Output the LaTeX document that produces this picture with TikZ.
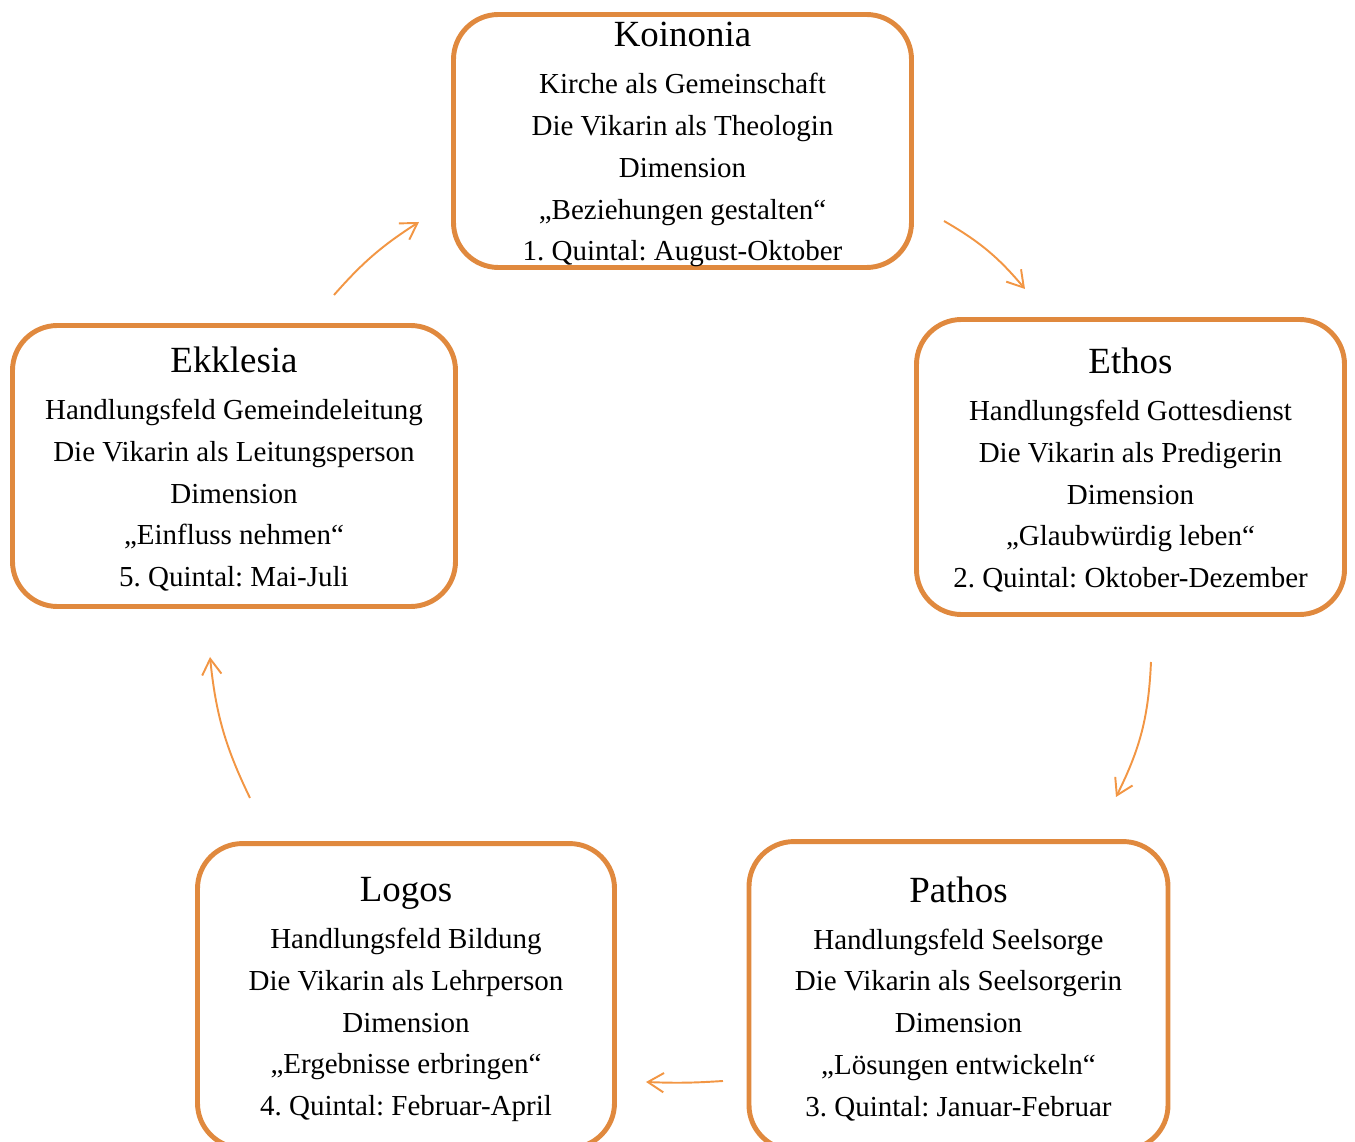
\documentclass[tikz,border=0pt]{standalone}
\usepackage{fontspec}
\setmainfont{Liberation Serif}
\usepackage{tikz}
\usetikzlibrary{arrows.meta}
\frenchspacing

\definecolor{boxorange}{RGB}{224,137,62}
\definecolor{arroworange}{RGB}{242,150,68}

\tikzset{
    phase/.style={draw=boxorange, line width=2.8pt, rounded corners=0.9cm, align=center,
        inner sep=0pt, font=\fontsize{16.5}{23.8}\selectfont},
    flow/.style={draw=arroworange, line width=1.1pt, -{Straight Barb[length=9pt,width=11pt]}}
}
\newcommand{\phasetitle}[1]{{\fontsize{21}{23.8}\selectfont\rule{0pt}{18pt}#1}\\[3pt]}

\begin{document}
\begin{tikzpicture}[scale=0.2]
    \useasboundingbox (0,0) rectangle (135.5,-114.2);
    \node [phase, minimum width=9.16cm, minimum height=5.06cm] (koinonia) at (68.25,-14.1)
        {\phasetitle{Koinonia}Kirche als Gemeinschaft\\Die Vikarin als Theologin\\Dimension\\„Beziehungen gestalten“\\1. Quintal: August-Oktober};
    \node [phase, minimum width=8.56cm, minimum height=5.9cm] (ethos) at (113.05,-46.7)
        {\phasetitle{Ethos}Handlungsfeld Gottesdienst\\Die Vikarin als Predigerin\\Dimension\\„Glaubwürdig leben“\\2. Quintal: Oktober-Dezember};
    \node [phase, minimum width=8.38cm, minimum height=6.17cm] (pathos) at (95.85,-99.58)
        {\phasetitle{Pathos}Handlungsfeld Seelsorge\\Die Vikarin als Seelsorgerin\\Dimension\\„Lösungen entwickeln“\\3. Quintal: Januar-Februar};
    \node [phase, minimum width=8.34cm, minimum height=6.09cm] (logos) at (40.6,-99.58)
        {\phasetitle{Logos}Handlungsfeld Bildung\\Die Vikarin als Lehrperson\\Dimension\\„Ergebnisse erbringen“\\4. Quintal: Februar-April};
    \node [phase, minimum width=8.86cm, minimum height=5.62cm] (ekklesia) at (23.4,-46.6)
        {\phasetitle{Ekklesia}Handlungsfeld Gemeindeleitung\\Die Vikarin als Leitungsperson\\Dimension\\„Einfluss nehmen“\\5. Quintal: Mai-Juli};
    % free ends of the cycle arrows
    \coordinate (koinonia-out) at (94.4,-22.1);
    \coordinate (ethos-in) at (102.5,-28.9);
    \coordinate (ethos-out) at (115.1,-66.2);
    \coordinate (pathos-in) at (111.6,-79.7);
    \coordinate (pathos-out) at (72.3,-108.1);
    \coordinate (logos-in) at (64.6,-108.2);
    \coordinate (logos-out) at (25.0,-79.8);
    \coordinate (ekklesia-in) at (21.0,-65.7);
    \coordinate (ekklesia-out) at (33.4,-29.5);
    \coordinate (koinonia-in) at (41.9,-22.2);
    \draw [flow] (koinonia-out) to [bend left=10] (ethos-in);
    \draw [flow] (ethos-out) to [bend left=12] (pathos-in);
    \draw [flow] (pathos-out) to [bend left=3] (logos-in);
    \draw [flow] (logos-out) to [bend left=10] (ekklesia-in);
    \draw [flow] (ekklesia-out) to [bend left=8] (koinonia-in);
\end{tikzpicture}
\end{document}
